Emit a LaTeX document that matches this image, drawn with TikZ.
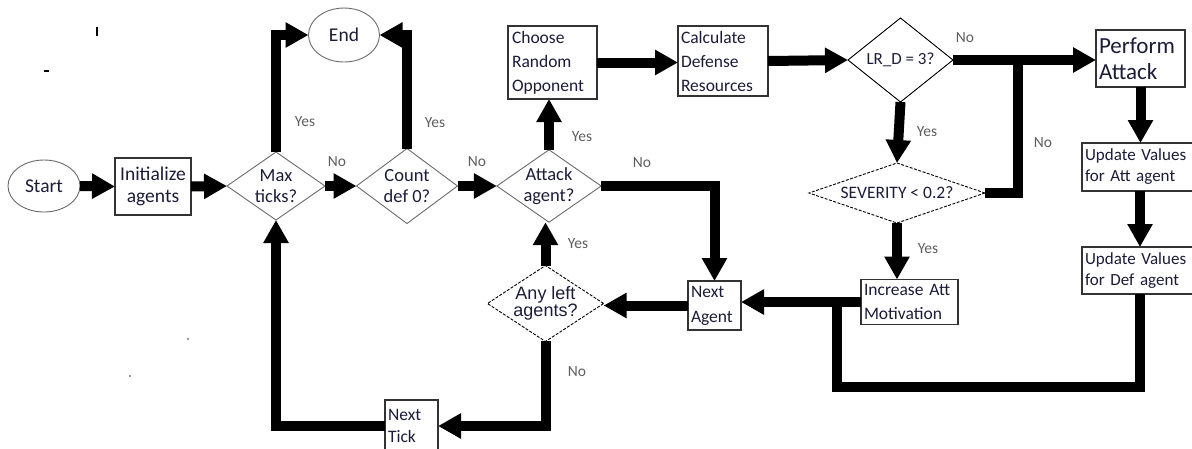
\documentclass[tikz,border=0pt]{standalone}
\usepackage{fontspec}
\setmainfont{Carlito}
\newfontfamily\arialish{Liberation Sans}
\usetikzlibrary{arrows.meta,shapes.geometric}

\definecolor{inkc}{HTML}{1C1C3A}
\definecolor{edgec}{HTML}{333333}
\definecolor{rimc}{HTML}{6A6A6A}
\definecolor{labc}{HTML}{5E5E5E}

\tikzset{
  every node/.style={text=inkc, inner sep=0pt, outer sep=0pt},
  terminal/.style={ellipse, draw=rimc, line width=0.9pt, font=\fontsize{19.5}{21}\selectfont},
  procbox/.style={rectangle, draw=edgec, line width=1.3pt, fill=white},
  decision/.style={diamond, draw=rimc, line width=0.9pt, font=\fontsize{18.5}{21}\selectfont, align=center},
  flow/.style={line width=10pt, -{Triangle[length=23pt,width=24pt]}},
  flowline/.style={line width=10pt},
  branch/.style={text=labc, font=\fontsize{15.5}{17}\selectfont},
}

\begin{document}
\begin{tikzpicture}[x=1pt,y=-1pt]
\useasboundingbox (0,0) rectangle (1192,448);

% terminals
\node[terminal, minimum width=72, minimum height=52] (start) at (44,186) {Start};
\node[terminal, minimum width=71, minimum height=54] (fin) at (344,35) {End};

% process boxes
\node[procbox, minimum width=76, minimum height=57, align=center,
      font=\fontsize{19.5}{22}\selectfont] (init) at (153,186.5) {Initialize\\agents};
\node[procbox, minimum width=89, minimum height=73, text width=81, align=left,
      font=\fontsize{17.5}{24}\selectfont] (choose) at (552.5,62.5) {Choose\\Random\\Opponent};
\node[procbox, minimum width=90, minimum height=70, text width=84, align=left,
      font=\fontsize{17.5}{24}\selectfont] (calc) at (723,61) {Calculate\\Defense\\Resources};
\node[procbox, minimum width=89, minimum height=57, text width=83, align=left,
      font=\fontsize{23}{26}\selectfont] (perform) at (1140.5,58.5) {Perform\\Attack};
\node[procbox, minimum width=116, minimum height=48, text width=110, align=left,
      font=\fontsize{17}{21}\selectfont] (upatt) at (1140,167) {Update Values\\for Att agent};
\node[procbox, minimum width=116, minimum height=47, text width=110, align=left,
      font=\fontsize{17}{21}\selectfont] (updef) at (1140,270.5) {Update Values\\for Def agent};
\node[procbox, minimum width=97, minimum height=45, text width=91, align=left,
      font=\fontsize{17.5}{24}\selectfont] (incr) at (909.5,302) {Increase Att\\Motivation};
\node[procbox, minimum width=53, minimum height=49, text width=47, align=left,
      font=\fontsize{17.5}{25}\selectfont] (nexta) at (714.5,305.5) {Next\\Agent};
\node[procbox, minimum width=53, minimum height=52, text width=47, align=left,
      font=\fontsize{17.5}{22}\selectfont] (nextt) at (411.5,426) {Next\\Tick};

% decisions
\node[decision, minimum width=98, minimum height=68, aspect=1.44] (maxt) at (276,186) {Max\\ticks?};
\node[decision, minimum width=101, minimum height=75, aspect=1.35] (count) at (407,186) {Count\\def 0?};
\node[decision, minimum width=98, minimum height=68, aspect=1.44] (attack) at (549,186) {Attack\\agent?};
\node[decision, minimum width=105, minimum height=84, aspect=1.25, draw=black,
      font=\fontsize{17}{20}\selectfont] (lrd) at (900.5,60) {LR\_D = 3?};
\node[decision, minimum width=176, minimum height=60, aspect=2.93, draw=black,
      dash pattern=on 3pt off 1.5pt, font=\fontsize{17.5}{20}\selectfont] (sev) at (897,193) {SEVERITY < 0.2?};
\node[decision, minimum width=109, minimum height=71, aspect=1.53, draw=black,
      dash pattern=on 3pt off 1.5pt, font=\arialish\fontsize{18}{16}\selectfont] (anyleft) at (545.5,303.5) {Any left\\agents?};

% junction points of merging lines
\coordinate (sevup) at (1018,56);
\coordinate (loopcorner) at (837,387);
\coordinate (loopjoin) at (837,300);

% main flow
\draw[flow] (start.east) -- (init.west);
\draw[flow] (init.east) -- (maxt.west);
\draw[flow] (maxt.east) -- (count.west);
\draw[flow] (count.east) -- (attack.west);
\draw[flow] (maxt.north) |- (fin.west);
\draw[flow] (count.north) |- (fin.east);
\draw[flow] (attack.north) -- (attack.north |- choose.south);
\draw[flow] (choose.east) -- (choose.east -| calc.west);
\draw[flow] (calc.east) -- (lrd.west);
\draw[flow] (lrd.east) -- (lrd.east -| perform.west);
\draw[flow] (lrd.south) -- (sev.north);
\draw[flowline] (sev.east) -| (sevup);
\draw[flow] (sev.south) -- (sev.south |- incr.north);
\draw[flow] (perform.south) -- (perform.south |- upatt.north);
\draw[flow] (upatt.south) -- (updef.north);
\draw[flowline] (updef.south) |- (loopcorner) -- (loopjoin);
\draw[flow] (incr.west) -- (incr.west -| nexta.east);
\draw[flow] (attack.east) -| (nexta.north);
\draw[flow] (nexta.west) -- (nexta.west -| anyleft.east);
\draw[flow] (anyleft.north) -- (anyleft.north |- attack.south);
\draw[flow] (anyleft.south) |- (nextt.east);
\draw[flow] (nextt.west) -| (maxt.south);

% branch labels
\node[branch] (l1) at (305,122) {Yes};
\node[branch] (l2) at (337,162) {No};
\node[branch] (l3) at (435,123) {Yes};
\node[branch] (l4) at (477,162) {No};
\node[branch] (l5) at (582,137) {Yes};
\node[branch] (l6) at (642,163) {No};
\node[branch] (l7) at (965,38) {No};
\node[branch] (l8) at (927,132) {Yes};
\node[branch] (l9) at (1043,143) {No};
\node[branch] (l10) at (928,249) {Yes};
\node[branch] (l11) at (578,244) {Yes};
\node[branch] (l12) at (577,372) {No};

% small stray marks
\draw[line width=1.2pt] (97,27) -- (97,36);
\draw[line width=1.4pt] (44,71) -- (49,71);
\fill[black!80] (188,339) circle (0.8);
\fill[black!80] (130,376) circle (0.8);
\end{tikzpicture}
\end{document}
